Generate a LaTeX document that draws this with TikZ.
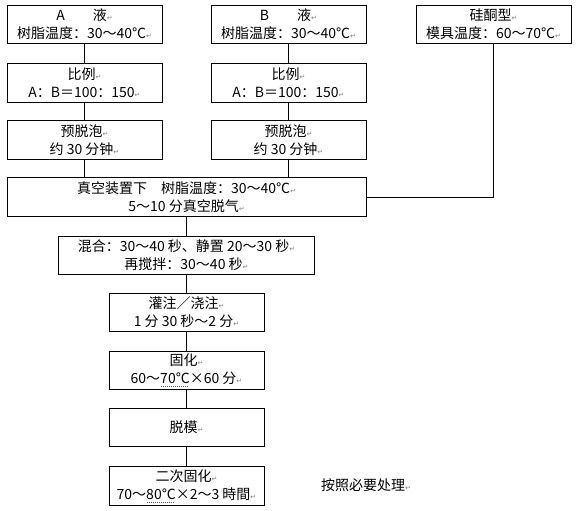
\documentclass[tikz,border=0pt]{standalone}
\usepackage{fontspec}
\setmainfont{Noto Sans CJK SC}
\newfontfamily\dejavu{DejaVu Sans}
\newcommand\rt{{\dejavu\fontsize{7}{7}\selectfont\color{gray}↵}}
\newcommand\dotul[1]{\setbox0=\hbox{#1}\rlap{\raisebox{-3pt}{\color{magenta}\hbox to \wd0{\leaders\hbox to 2pt{\hss\vrule width 1pt height 0.8pt depth 0pt\hss}\hfil}}}\box0}
\begin{document}
\begin{tikzpicture}[x=1pt,y=-1pt,
  every node/.style={font=\fontsize{14}{18}\selectfont},
  box/.style={draw, line width=0.9pt, minimum width=155pt, minimum height=38.5pt, align=center, inner sep=0pt},
  conn/.style={line width=0.9pt}]
\useasboundingbox (0,0) rectangle (579,511);
\node[box] (a) at (84.5,24.5) {A\hspace{28pt}液\rt\\树脂温度：30～40℃\rt};
\node[box] (b) at (288.5,24.5) {B\hspace{28pt}液\rt\\树脂温度：30～40℃\rt};
\node[box] (s) at (493.5,24.5) {硅酮型\rt\\模具温度：60～70℃\rt};
\node[box] (ra) at (84.5,83) {比例\rt\\A：B＝100：150\rt};
\node[box] (rb) at (288.5,83) {比例\rt\\A：B＝100：150\rt};
\node[box] (pa) at (84.5,140) {预脱泡\rt\\约 30 分钟\rt};
\node[box] (pb) at (288.5,140) {预脱泡\rt\\约 30 分钟\rt};
\node[box, minimum width=359pt] (v) at (186.5,197) {真空装置下　树脂温度：30～40℃\rt\\5～10 分真空脱气\rt};
\node[box, minimum width=256pt, minimum height=37.5pt] (m) at (186.5,255.5) {混合：30～40 秒、静置 20～30 秒\rt\\再搅拌：30～40 秒\rt};
\node[box] (p) at (186.5,312.5) {灌注／浇注\rt\\1 分 30 秒～2 分\rt};
\node[box] (c) at (186.5,370.5) {固化\rt\\60～\dotul{70℃}×60 分\rt};
\node[box] (d) at (186.5,427.5) {脱模\rt};
\node[box] (c2) at (186.5,486) {二次固化\rt\\70～\dotul{80℃}×2～3 時間\rt};
\node (note) at (366,485) {按照必要处理\rt};
\draw[conn] (a) -- (ra);
\draw[conn] (ra) -- (pa);
\draw[conn] (pa.south) -- (pa.south |- v.north);
\draw[conn] (b) -- (rb);
\draw[conn] (rb) -- (pb);
\draw[conn] (pb.south) -- (pb.south |- v.north);
\draw[conn] (s.south) |- (v.east);
\draw[conn] (v) -- (m);
\draw[conn] (m) -- (p);
\draw[conn] (p) -- (c);
\draw[conn] (c) -- (d);
\draw[conn] (d) -- (c2);
\end{tikzpicture}
\end{document}
